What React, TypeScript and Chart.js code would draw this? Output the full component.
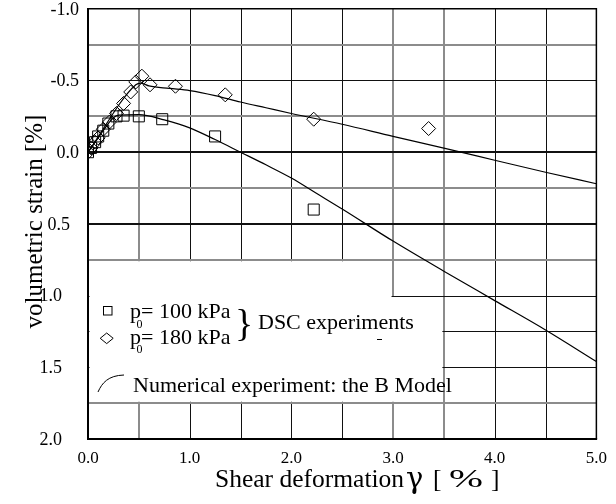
import React, { useEffect, useRef } from "react";
import { Chart, registerables } from "chart.js";

Chart.register(...registerables);

// ---- data ----
// DSC experiments, p0 = 100 kPa  [shear deformation %, volumetric strain %]
const dsc100: [number, number][] = [
  [0, 0], [0.03, -0.03], [0.07, -0.07], [0.1, -0.11], [0.15, -0.15], [0.2, -0.2],
  [0.28, -0.25], [0.35, -0.255], [0.5, -0.25], [0.73, -0.23], [1.25, -0.11], [2.22, 0.4],
];
// DSC experiments, p0 = 180 kPa
const dsc180: [number, number][] = [
  [0, 0], [0.03, -0.03], [0.07, -0.07], [0.1, -0.1], [0.15, -0.16], [0.21, -0.21],
  [0.28, -0.27], [0.35, -0.34], [0.42, -0.42], [0.47, -0.49], [0.53, -0.53], [0.61, -0.47],
  [0.86, -0.46], [1.35, -0.4], [2.22, -0.23], [3.35, -0.165],
];
// Numerical experiment (B Model), p0 = 100 kPa
const model100: [number, number][] = [
  [0, 0], [0.1, -0.1], [0.2, -0.2], [0.25, -0.24], [0.3, -0.258], [0.5, -0.262],
  [0.75, -0.225], [1.0, -0.17], [1.25, -0.088], [1.5, 0.0], [1.75, 0.088], [2.0, 0.18],
  [2.25, 0.288], [2.5, 0.396], [3.0, 0.62], [3.5, 0.83], [4.0, 1.035], [4.5, 1.24], [5.0, 1.46],
];
// Numerical experiment (B Model), p0 = 180 kPa
const model180: [number, number][] = [
  [0, 0], [0.47, -0.47], [0.52, -0.482], [0.6, -0.462], [0.8, -0.445], [1.0, -0.43],
  [1.25, -0.395], [1.5, -0.35], [1.75, -0.31], [2.0, -0.27], [2.5, -0.195], [3.0, -0.11],
  [3.5, -0.028], [4.0, 0.056], [4.5, 0.14], [5.0, 0.22],
];

const yTickValues = [-1.0, -0.5, 0.0, 0.5, 1.0, 1.5, 2.0];
const xGridValues = [0.5, 1.0, 1.5, 2.0, 2.5, 3.0, 3.5, 4.0, 4.5];
const yGridValues = [-0.75, -0.5, -0.25, 0.0, 0.25, 0.5, 0.75, 1.0, 1.25, 1.5, 1.75];

// ---- styles ----
const SERIF = "'Liberation Serif', 'Times New Roman', serif";
const yLabelGap = [9, 9, 9, 18, 26, 26, 26];
const grayX = [0.5, 3.0, 3.5];
const grayY = [-0.75, -0.25, 0.25, 0.75, 1.75];
const thickY = [0.0, 0.5];

const toXY = (arr: [number, number][]) => arr.map(([x, y]) => ({ x, y }));

const paperPlugin = {
  id: "paperGrid",
  beforeDatasetsDraw(chart: any) {
    const { ctx, chartArea: a, scales } = chart;
    const xs = scales.x, ys = scales.y;
    const px = (v: number) => xs.getPixelForValue(v);
    const py = (v: number) => ys.getPixelForValue(v);
    const d = 1.5;
    const X0 = px(0), X30 = px(3), X35 = px(3.5);
    const Y075 = py(0.75), Y10 = py(1.0), Y175 = py(1.75);
    ctx.save();
    ctx.beginPath();
    ctx.rect(a.left, a.top, a.right - a.left, a.bottom - a.top);
    ctx.moveTo(X0 + d, Y075 + d);
    ctx.lineTo(X30 - d, Y075 + d);
    ctx.lineTo(X30 - d, Y10 + d);
    ctx.lineTo(X35 - d, Y10 + d);
    ctx.lineTo(X35 - d, Y175 - d);
    ctx.lineTo(X0 + d, Y175 - d);
    ctx.closePath();
    ctx.clip("evenodd");
    for (const v of xGridValues) {
      const gray = grayX.includes(v);
      ctx.beginPath();
      ctx.lineWidth = gray ? 2 : 1;
      ctx.strokeStyle = gray ? "#8c8c8c" : "#111";
      const p = gray ? Math.round(px(v)) : Math.round(px(v)) + 0.5;
      ctx.moveTo(p, a.top);
      ctx.lineTo(p, a.bottom);
      ctx.stroke();
    }
    for (const v of yGridValues) {
      const gray = grayY.includes(v);
      const thick = thickY.includes(v);
      ctx.beginPath();
      ctx.lineWidth = gray ? 2 : thick ? 2 : 1;
      ctx.strokeStyle = gray ? "#8c8c8c" : "#111";
      const p = gray || thick ? Math.round(py(v)) : Math.round(py(v)) + 0.5;
      ctx.moveTo(a.left, p);
      ctx.lineTo(a.right, p);
      ctx.stroke();
    }
    ctx.restore();

    // frame
    ctx.save();
    ctx.strokeStyle = "#000";
    ctx.lineWidth = 1.5;
    ctx.beginPath();
    ctx.moveTo(a.left, a.top);
    ctx.lineTo(a.right, a.top);
    ctx.lineTo(a.right, a.bottom);
    ctx.stroke();
    ctx.lineWidth = 2;
    ctx.beginPath();
    ctx.moveTo(a.left, a.top - 0.75);
    ctx.lineTo(a.left, a.bottom);
    ctx.lineTo(a.right + 0.75, a.bottom);
    ctx.stroke();
    ctx.restore();
  },
  afterDraw(chart: any) {
    const { ctx, chartArea: a, scales } = chart;
    const ys = scales.y;
    ctx.save();
    ctx.fillStyle = "#000";
    ctx.strokeStyle = "#000";

    // y tick labels
    ctx.font = `18px ${SERIF}`;
    ctx.textAlign = "right";
    ctx.textBaseline = "middle";
    yTickValues.forEach((v, i) => {
      ctx.fillText(v.toFixed(1), a.left - yLabelGap[i], ys.getPixelForValue(v) + 1);
    });

    // y title
    ctx.save();
    ctx.translate(42, 221.5);
    ctx.rotate(-Math.PI / 2);
    ctx.font = `25px ${SERIF}`;
    ctx.textAlign = "center";
    ctx.textBaseline = "alphabetic";
    ctx.fillText("volumetric strain [%]", 0, 0);
    ctx.restore();

    // x title
    ctx.textAlign = "left";
    ctx.textBaseline = "alphabetic";
    ctx.font = `25.5px ${SERIF}`;
    ctx.fillText("Shear deformation", 215, 487);
    ctx.font = `29px 'DejaVu Serif', ${SERIF}`;
    ctx.fillText("\u03B3", 406, 488);
    ctx.font = `25.5px ${SERIF}`;
    ctx.fillText("[", 433, 487);
    ctx.fillText("]", 491, 487);
    ctx.save();
    ctx.translate(449, 487);
    ctx.scale(1.6, 1);
    ctx.fillText("%", 0, 0);
    ctx.restore();

    // legend
    ctx.lineWidth = 1;
    ctx.strokeRect(103.5, 306.5, 8.5, 8.5);
    ctx.beginPath();
    ctx.moveTo(106.7, 333);
    ctx.lineTo(113.2, 338.3);
    ctx.lineTo(106.7, 343.6);
    ctx.lineTo(100.2, 338.3);
    ctx.closePath();
    ctx.stroke();

    ctx.font = `22px ${SERIF}`;
    ctx.fillText("p", 130, 318);
    ctx.fillText("= 100 kPa", 141, 318);
    ctx.fillText("p", 130, 344);
    ctx.fillText("= 180 kPa", 141, 344);
    ctx.font = `12px ${SERIF}`;
    ctx.fillText("0", 136.5, 327.5);
    ctx.fillText("0", 136.5, 353);

    ctx.font = `38px ${SERIF}`;
    ctx.fillText("}", 235, 336);

    ctx.font = `22px ${SERIF}`;
    ctx.fillText("DSC experiments", 258, 329);

    ctx.lineWidth = 1;
    ctx.beginPath();
    ctx.moveTo(98, 392);
    ctx.bezierCurveTo(102, 383, 108, 375.5, 124, 375);
    ctx.stroke();
    ctx.fillText("Numerical experiment: the B Model", 133, 392);

    ctx.beginPath();
    ctx.moveTo(377, 339.5);
    ctx.lineTo(382, 339.5);
    ctx.stroke();

    ctx.restore();
  },
};

export default function App() {
  const ref = useRef<HTMLCanvasElement | null>(null);
  useEffect(() => {
    document.body.style.margin = "0";
    const canvas = ref.current;
    if (!canvas) return;
    const lineStyle = {
      showLine: true,
      pointRadius: 0,
      pointHoverRadius: 0,
      borderColor: "#000",
      borderWidth: 1.2,
      fill: false,
      cubicInterpolationMode: "monotone" as const,
    };
    const chart = new Chart(canvas, {
      type: "scatter",
      data: {
        datasets: [
          { label: "B Model p0=180", data: toXY(model180), ...lineStyle },
          { label: "B Model p0=100", data: toXY(model100), ...lineStyle },
          {
            label: "p0 = 100 kPa",
            data: toXY(dsc100),
            pointStyle: "rect",
            pointRadius: 7.8,
            borderColor: "#000",
            borderWidth: 1,
            backgroundColor: "rgba(0,0,0,0)",
            showLine: false,
          },
          {
            label: "p0 = 180 kPa",
            data: toXY(dsc180),
            pointStyle: "rectRot",
            pointRadius: 7,
            borderColor: "#000",
            borderWidth: 1,
            backgroundColor: "rgba(0,0,0,0)",
            showLine: false,
          },
        ],
      },
      options: {
        responsive: false,
        maintainAspectRatio: false,
        animation: false,
        devicePixelRatio: 1,
        layout: { padding: { left: 88, top: 7, right: 11, bottom: 0 } },
        plugins: { legend: { display: false }, tooltip: { enabled: false } },
        scales: {
          x: {
            type: "linear",
            position: "bottom",
            min: 0,
            max: 5,
            grid: { display: false, drawTicks: false },
            border: { display: false },
            ticks: {
              stepSize: 1,
              padding: 9,
              color: "#000",
              font: { family: SERIF, size: 17 },
              callback: (v: any) => Number(v).toFixed(1),
            },
            afterFit: (s: any) => {
              s.height = 65;
            },
          },
          y: {
            type: "linear",
            display: false,
            min: -1,
            max: 2,
            reverse: true,
          },
        },
      },
      plugins: [paperPlugin],
    });
    return () => chart.destroy();
  }, []);
  return (
    <div style={{ width: 616, height: 504 }}>
      <canvas ref={ref} width={616} height={504} style={{ display: "block" }} />
    </div>
  );
}
